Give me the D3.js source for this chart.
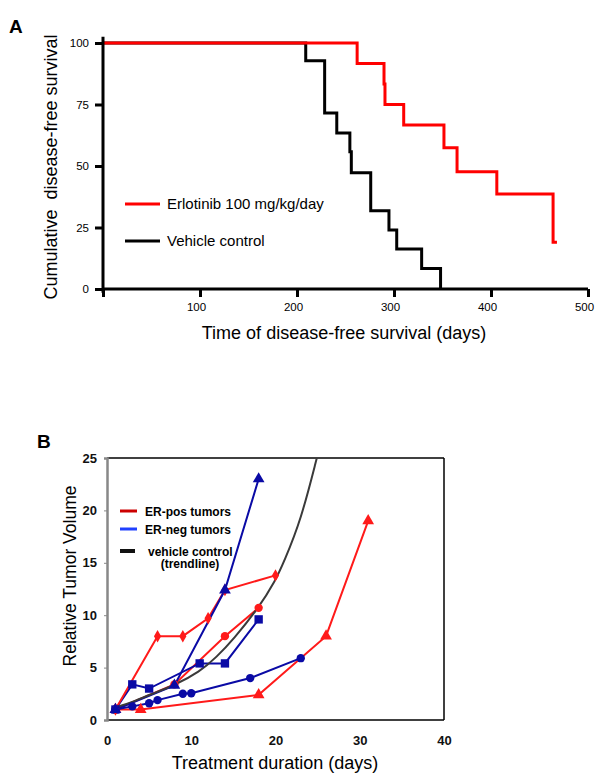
<!DOCTYPE html>
<html>
<head>
<meta charset="utf-8">
<script src="https://cdn.jsdelivr.net/npm/d3@7"></script>
<style>
  body { margin: 0; background: #fff; }
  svg { font-family: Arial, "Liberation Sans", sans-serif; }
</style>
</head>
<body>
<div id="chart"></div>
<script>
// --- Panel A data: Kaplan-Meier steps (day, % disease-free) ---
const erlotinibDays = [0, 262, 289.7, 290.7, 310, 351.5, 365, 406, 464, 468];
const erlotinibSurv = [100, 91.7, 83.3, 75, 66.7, 57.4, 47.7, 38.6, 19, 19];
const vehicleDays = [0, 209, 228.5, 241, 254.5, 256, 276, 294.8, 302.8, 328.5, 348];
const vehicleSurv = [100, 92.8, 71.5, 63.4, 55.8, 47.3, 31.8, 24, 16.3, 8.3, 0];
const aYTicks = [0, 25, 50, 75, 100];
const aXTicks = [100, 200, 300, 400, 500];

// --- Panel B data: relative tumor volume by day ---
const erPosDiamond = [[1, 1], [6, 8], [9, 8], [12, 9.7], [14, 12.4], [20, 13.8]];
const erPosCircle = [[1, 1], [8, 3.4], [14, 8], [18, 10.7]];
const erPosTriangle = [[1, 1], [4, 1], [18, 2.4], [26, 8], [31, 19]];
const erNegTriangle = [[1, 1], [8, 3.3], [14, 12.4], [18, 23]];
const erNegSquare = [[1, 1], [3, 3.4], [5, 3], [11, 5.4], [14, 5.4], [18, 9.6]];
const erNegCircle = [[1, 1], [3, 1.3], [5, 1.6], [6, 1.9], [9, 2.5], [10, 2.55], [17, 4], [23, 5.9]];
const trendline = [[1, 1.2], [3, 1.7], [5, 2.4], [8, 3.3], [11, 4.6], [13, 6.0], [15, 7.7], [18, 10.7], [20, 13.3], [21, 15.1], [23, 19], [25, 25.3]];
const bYTicks = [0, 5, 10, 15, 20, 25];
const bXTicks = [0, 10, 20, 30, 40];

const RED = "#ff1a1a";
const BLUE = "#0a0aa5";

const svg = d3.select("#chart").append("svg")
    .attr("width", 600)
    .attr("height", 781);

// ================= Panel A =================
const xA = d3.scaleLinear().domain([0, 500]).range([103, 588]);
const yA = d3.scaleLinear().domain([0, 100]).range([289, 43]);

const gA = svg.append("g");

gA.append("text").attr("x", 9).attr("y", 33)
    .attr("font-size", 19).attr("font-weight", "bold").text("A");

// survival steps
const stepLine = d3.line()
    .x(d => xA(d[0]))
    .y(d => yA(d[1]))
    .curve(d3.curveStepAfter);

const vehiclePts = vehicleDays.map((d, i) => [d, vehicleSurv[i]]);
const erlotinibPts = erlotinibDays.map((d, i) => [d, erlotinibSurv[i]]);

gA.append("path").datum(vehiclePts)
    .attr("d", stepLine).attr("fill", "none")
    .attr("stroke", "#000").attr("stroke-width", 3);
gA.append("path").datum(erlotinibPts)
    .attr("d", stepLine).attr("fill", "none")
    .attr("stroke", "#ff0000").attr("stroke-width", 3);

// axes
const axA = gA.append("g").attr("transform", `translate(0,${yA(0)})`)
    .call(d3.axisBottom(xA).tickValues([0].concat(aXTicks)).tickSize(8).tickPadding(6)
        .tickFormat(d => d === 0 ? "" : d));
const ayA = gA.append("g").attr("transform", `translate(${xA(0)},0)`)
    .call(d3.axisLeft(yA).tickValues(aYTicks).tickSize(8).tickPadding(6));
[axA, ayA].forEach(a => {
    a.select(".domain").attr("stroke-width", 3).attr("stroke", "#000");
    a.selectAll(".tick line").attr("stroke-width", 3).attr("stroke", "#000");
    a.selectAll(".tick text").attr("font-size", 11.5).attr("fill", "#000")
        .attr("font-family", "Arial, 'Liberation Sans', sans-serif");
});
axA.selectAll(".tick text").attr("dx", -4);
ayA.select(".domain").attr("d", `M0,${yA(102.5)}V${yA(-1.5)}`);
axA.select(".domain").attr("d", `M${xA(0)},0H${xA(500)}`);

// legend
const legA = [
    { label: "Erlotinib 100 mg/kg/day", color: "#ff0000", y: 204 },
    { label: "Vehicle control", color: "#000", y: 241 }
];
legA.forEach(l => {
    gA.append("line").attr("x1", 125).attr("x2", 160).attr("y1", l.y).attr("y2", l.y)
        .attr("stroke", l.color).attr("stroke-width", 3);
    gA.append("text").attr("x", 167).attr("y", l.y + 5)
        .attr("font-size", 15).text(l.label);
});

gA.append("text")
    .attr("transform", "translate(57,167) rotate(-90)")
    .attr("text-anchor", "middle").attr("font-size", 18)
    .attr("xml:space", "preserve")
    .text("Cumulative  disease-free survival");
gA.append("text")
    .attr("x", 344).attr("y", 339)
    .attr("text-anchor", "middle").attr("font-size", 18)
    .text("Time of disease-free survival (days)");

// ================= Panel B =================
const xB = d3.scaleLinear().domain([0, 40]).range([107, 444]);
const yB = d3.scaleLinear().domain([0, 25]).range([720, 458]);

const gB = svg.append("g");

gB.append("text").attr("x", 37).attr("y", 448)
    .attr("font-size", 19).attr("font-weight", "bold").text("B");

gB.append("clipPath").attr("id", "clipB")
    .append("rect").attr("x", xB(0)).attr("y", yB(25))
    .attr("width", xB(40) - xB(0)).attr("height", yB(0) - yB(25));

// frame
gB.append("line").attr("x1", xB(0)).attr("x2", xB(40)).attr("y1", yB(25)).attr("y2", yB(25))
    .attr("stroke", "#000").attr("stroke-width", 1.5);
gB.append("line").attr("x1", xB(40)).attr("x2", xB(40)).attr("y1", yB(25)).attr("y2", yB(0))
    .attr("stroke", "#000").attr("stroke-width", 1.5);
gB.append("line").attr("x1", xB(0)).attr("x2", xB(40)).attr("y1", yB(0)).attr("y2", yB(0))
    .attr("stroke", "#000").attr("stroke-width", 1.5);

const byB = gB.append("g").attr("transform", `translate(${xB(0)},0)`)
    .call(d3.axisLeft(yB).tickValues(bYTicks).tickSize(3).tickPadding(7));
byB.select(".domain").attr("stroke", "#888").attr("stroke-width", 2.5);
byB.selectAll(".tick line").attr("stroke", "#888");

const bxB = gB.append("g").attr("transform", `translate(0,${yB(0)})`)
    .call(d3.axisBottom(xB).tickValues(bXTicks).tickSize(0).tickPadding(16));
bxB.select(".domain").remove();
[byB, bxB].forEach(a => {
    a.selectAll(".tick text").attr("font-size", 13).attr("font-weight", "bold").attr("fill", "#111")
        .attr("font-family", "Arial, 'Liberation Sans', sans-serif");
});

const lineB = d3.line().x(d => xB(d[0])).y(d => yB(d[1]));

const series = [
    { data: erPosTriangle, color: RED, shape: d3.symbolTriangle, size: 60 },
    { data: erPosCircle, color: RED, shape: d3.symbolCircle, size: 55 },
    { data: erNegCircle, color: BLUE, shape: d3.symbolCircle, size: 55 },
    { data: erNegSquare, color: BLUE, shape: d3.symbolSquare, size: 70 },
    { data: erPosDiamond, color: RED, shape: d3.symbolDiamond, size: 45 },
    { data: erNegTriangle, color: BLUE, shape: d3.symbolTriangle, size: 60 }
];

const plotB = gB.append("g").attr("clip-path", "url(#clipB)");

series.forEach(s => {
    plotB.append("path").datum(s.data).attr("d", lineB)
        .attr("fill", "none").attr("stroke", s.color).attr("stroke-width", 2);
});

plotB.append("path").datum(trendline)
    .attr("d", d3.line().x(d => xB(d[0])).y(d => yB(d[1])).curve(d3.curveBasis))
    .attr("fill", "none").attr("stroke", "#3a3a3a").attr("stroke-width", 2);

series.forEach(s => {
    gB.append("g").selectAll("path").data(s.data).join("path")
        .attr("transform", d => `translate(${xB(d[0])},${yB(d[1])})`)
        .attr("d", d3.symbol().type(s.shape).size(s.size))
        .attr("fill", s.color);
});

// legend
const legB = [
    { label: "ER-pos tumors", color: "#cc0000", y: 511, x2: 137, w: 3, tx: 145 },
    { label: "ER-neg tumors", color: "#2040ff", y: 529, x2: 137, w: 3, tx: 145 },
    { label: "vehicle control", color: "#111", y: 551, x2: 135, w: 4, tx: 148 }
];
legB.forEach(l => {
    gB.append("line").attr("x1", 120).attr("x2", l.x2).attr("y1", l.y).attr("y2", l.y)
        .attr("stroke", l.color).attr("stroke-width", l.w);
    gB.append("text").attr("x", l.tx).attr("y", l.y + 4.5)
        .attr("font-size", 12).attr("font-weight", "bold").text(l.label);
});
gB.append("text").attr("x", 190).attr("y", 568)
    .attr("text-anchor", "middle").attr("font-size", 12).attr("font-weight", "bold")
    .text("(trendline)");

gB.append("text")
    .attr("transform", "translate(76,576) rotate(-90)")
    .attr("text-anchor", "middle").attr("font-size", 17.5)
    .text("Relative Tumor Volume");
gB.append("text")
    .attr("x", 275).attr("y", 769)
    .attr("text-anchor", "middle").attr("font-size", 18)
    .text("Treatment duration (days)");
</script>
</body>
</html>
